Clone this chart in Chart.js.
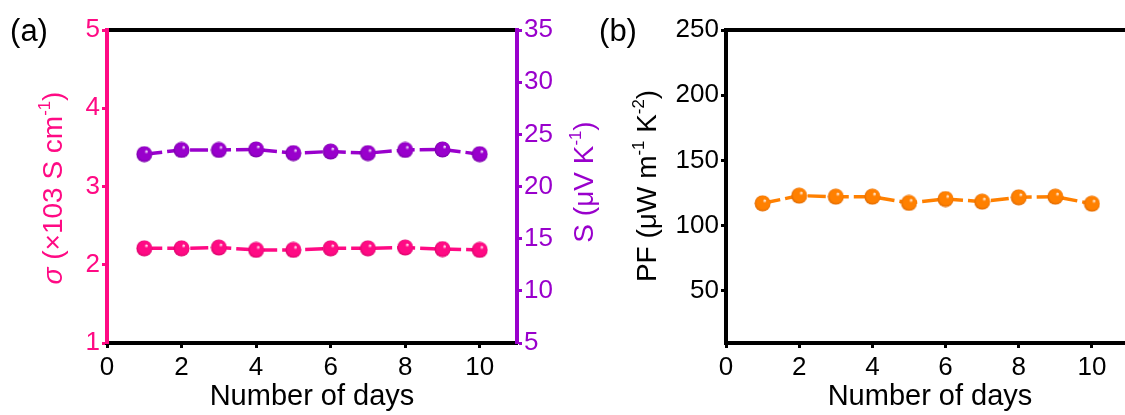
<!DOCTYPE html>
<html lang="en">
<head>
<meta charset="UTF-8">
<title>Stability over days</title>
<script src="https://cdn.jsdelivr.net/npm/chart.js@4.4.0/dist/chart.umd.min.js"></script>
<style>
  html, body { margin: 0; padding: 0; background: #fff; overflow: hidden; width: 1125px; height: 415px; }
  .panel { position: absolute; top: 0; height: 415px; }
  #panelA { left: 0; width: 600px; }
  #panelB { left: 600px; width: 540px; }
</style>
</head>
<body>
<div class="panel" id="panelA"><canvas id="chartA" width="600" height="415"></canvas></div>
<div class="panel" id="panelB"><canvas id="chartB" width="540" height="415"></canvas></div>
<script>
// values
var days = [1, 2, 3, 4, 5, 6, 7, 8, 9, 10];
var sigma = [2.21, 2.21, 2.22, 2.19, 2.19, 2.21, 2.21, 2.22, 2.20, 2.19];   // x10^3 S/cm
var seebeck = [23.1, 23.5, 23.5, 23.55, 23.2, 23.35, 23.2, 23.5, 23.55, 23.1]; // uV/K
var pf = [117.1, 123.0, 122.2, 122.2, 117.4, 120.4, 118.4, 121.7, 122.2, 116.8]; // uW m-1 K-2

var dayTicks = [0, 2, 4, 6, 8, 10];
var sigmaTicks = [1, 2, 3, 4, 5];
var seebeckTicks = [5, 10, 15, 20, 25, 30, 35];
var pfTicks = [50, 100, 150, 200, 250];

var PINK = '#ff0a84';
var PURPLE = '#9900cc';
var ORANGE = '#ff8000';
var FONT = '"Liberation Sans", Arial, sans-serif';

// little shaded ball used as marker
function makeBall(color, dark) {
  var c = document.createElement('canvas');
  c.width = 17; c.height = 17;
  var g = c.getContext('2d');
  var grad = g.createRadialGradient(11, 5.5, 0.2, 8.5, 8.5, 8.5);
  grad.addColorStop(0, '#ffffff');
  grad.addColorStop(0.22, color);
  grad.addColorStop(0.75, color);
  grad.addColorStop(1, dark);
  g.fillStyle = grad;
  g.beginPath();
  g.arc(8.5, 8.5, 8, 0, 2 * Math.PI);
  g.fill();
  return c;
}

function pts(ys) {
  return days.map(function (d, i) { return { x: d, y: ys[i] }; });
}

function fixTicks(list) {
  return function (scale) {
    scale.ticks = list.map(function (v) { return { value: v }; });
  };
}

// text with italic / superscript pieces, centred on (cx, cy)
function drawRich(ctx, parts, cx, cy, rot, color, size) {
  ctx.save();
  ctx.translate(cx, cy);
  ctx.rotate(rot);
  ctx.fillStyle = color;
  ctx.textBaseline = 'alphabetic';
  ctx.textAlign = 'left';
  var total = 0;
  parts.forEach(function (p) {
    ctx.font = (p.italic ? 'italic ' : '') + (p.sup ? size * 0.6 : size) + 'px ' + FONT;
    p.w = ctx.measureText(p.t).width;
    total += p.w;
  });
  var x = -total / 2;
  var base = size * 0.36;
  parts.forEach(function (p) {
    ctx.font = (p.italic ? 'italic ' : '') + (p.sup ? size * 0.6 : size) + 'px ' + FONT;
    ctx.fillText(p.t, x, p.sup ? base - size * 0.42 : base);
    x += p.w;
  });
  ctx.restore();
}

function yAxis(pos, color, min, max, list, width) {
  return {
    type: 'linear', position: pos, min: min, max: max,
    afterBuildTicks: fixTicks(list),
    afterFit: function (s) { s.width = width; },
    border: { color: color, width: 4 },
    grid: { drawOnChartArea: false, drawTicks: true, tickLength: 5, tickWidth: 3, color: color, tickColor: color },
    ticks: { color: color, padding: 2, font: { family: FONT, size: 26 } }
  };
}

function xAxes() {
  return {
    x: {
      type: 'linear', position: 'bottom', min: 0, max: 11,
      afterBuildTicks: fixTicks(dayTicks),
      afterFit: function (s) { s.height = 72; },
      border: { color: '#000', width: 4 },
      grid: { drawOnChartArea: false, drawTicks: true, tickLength: 5, tickWidth: 3, color: '#000', tickColor: '#000' },
      ticks: { color: '#000', padding: 4, maxRotation: 0, font: { family: FONT, size: 26 } }
    },
    xTop: {
      type: 'linear', position: 'top', min: 0, max: 11,
      afterFit: function (s) { s.height = 30; },
      border: { color: '#000', width: 4 },
      grid: { display: false, drawTicks: false },
      ticks: { display: false }
    }
  };
}

function lineSet(ys, color, dark, axis) {
  return {
    data: pts(ys), yAxisID: axis,
    borderColor: color, borderWidth: 3.5, borderDash: [18, 5],
    pointStyle: makeBall(color, dark), pointRadius: 8,
    tension: 0, fill: false
  };
}

Chart.defaults.animation = false;

var scalesA = xAxes();
scalesA.y = yAxis('left', PINK, 1, 5, sigmaTicks, 107);
scalesA.y2 = yAxis('right', PURPLE, 5, 35, seebeckTicks, 83);

new Chart(document.getElementById('chartA'), {
  type: 'line',
  data: { datasets: [
    lineSet(sigma, PINK, '#d00064', 'y'),
    lineSet(seebeck, PURPLE, '#7000a0', 'y2')
  ] },
  options: {
    responsive: false,
    layout: { padding: 0 },
    plugins: { legend: { display: false }, tooltip: { enabled: false } },
    scales: scalesA
  },
  plugins: [{
    id: 'titlesA',
    afterDraw: function (chart) {
      var ctx = chart.ctx;
      drawRich(ctx, [{ t: '(a)' }], 29, 30, 0, '#000', 31);
      drawRich(ctx, [{ t: 'Number of days' }], 312, 395, 0, '#000', 29);
      drawRich(ctx, [{ t: 'σ', italic: true }, { t: ' (×103 S cm' }, { t: '-1', sup: true }, { t: ')' }],
        52, 188, -Math.PI / 2, PINK, 28);
      drawRich(ctx, [{ t: 'S (μV K' }, { t: '-1', sup: true }, { t: ')' }],
        583, 182, -Math.PI / 2, PURPLE, 28);
    }
  }]
});

var scalesB = xAxes();
scalesB.y = yAxis('left', '#000', 10, 250, pfTicks, 126);

new Chart(document.getElementById('chartB'), {
  type: 'line',
  data: { datasets: [ lineSet(pf, ORANGE, '#d86400', 'y') ] },
  options: {
    responsive: false,
    layout: { padding: { right: 4 } },
    plugins: { legend: { display: false }, tooltip: { enabled: false } },
    scales: scalesB
  },
  plugins: [{
    id: 'titlesB',
    afterDraw: function (chart) {
      var ctx = chart.ctx;
      drawRich(ctx, [{ t: '(b)' }], 18, 30, 0, '#000', 31);
      drawRich(ctx, [{ t: 'Number of days' }], 330, 395, 0, '#000', 29);
      drawRich(ctx, [{ t: 'PF (μW m' }, { t: '-1', sup: true }, { t: ' K' }, { t: '-2', sup: true }, { t: ')' }],
        46, 186, -Math.PI / 2, '#000', 28);
    }
  }]
});
</script>
</body>
</html>
